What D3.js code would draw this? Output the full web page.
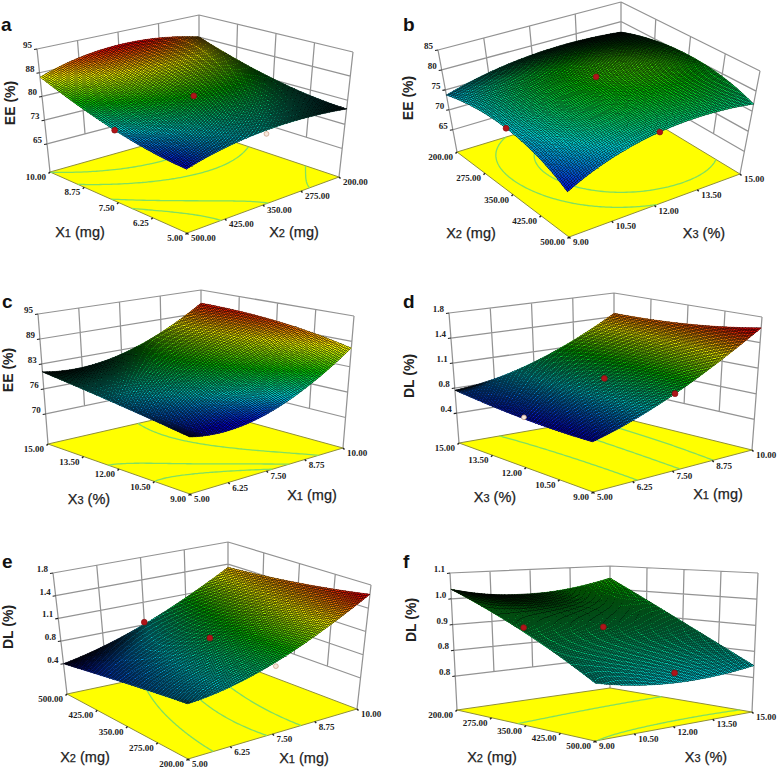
<!DOCTYPE html>
<html><head><meta charset="utf-8">
<script src="https://cdnjs.cloudflare.com/ajax/libs/d3/7.8.5/d3.min.js"></script>
<style>html,body{margin:0;background:#fff}svg{display:block}</style></head>
<body><svg id="chart" width="778" height="770"></svg>
<script>
// ---- values ----
const x1Ticks=[5,6.25,7.5,8.75,10];
const x2Ticks=[200,275,350,425,500];
const x3Ticks=[9,10.5,12,13.5,15];
const eeTicksA=[65,72.5,80,87.5,95];
const eeTicksB=[65,70,75,80,85];
const eeTicksC=[70,76.25,82.5,88.75,95];
const dlTicksD=[0.4,0.75,1.1,1.45,1.8];
const dlTicksF=[0.75,0.8375,0.925,1.0125,1.1];
// Response read at the start, middle, end of each floor axis (rows: left axis, columns: right axis)
const surfaceA=[[86.1,90.8,87.6],[77.5,81.5,80.3],[73.9,78.1,77.3]];
const surfaceB=[[73.7,77.7,77.3],[74.9,81.1,80.3],[69.3,76.5,76.8]];
const surfaceC=[[80.5,81.4,91.4],[77.9,81.3,90.3],[75.3,76.1,87.1]];
const surfaceD=[[0.72,0.95,1.50],[0.63,0.97,1.53],[0.62,1.00,1.65]];
const surfaceE=[[0.40,0.76,1.40],[0.56,0.94,1.50],[0.68,0.96,1.66]];
const surfaceF=[[1.045,1.012,1.054],[0.936,0.925,0.913],[0.812,0.774,0.79]];
// Design points: left-axis value, right-axis value, response, hollow flag
const pointsA=[[7.5,500,77.5,0],[7.5,350,81.5,0],[5,350,77,1]];
const pointsB=[[350,9,74.9,0],[350,12,81.1,0],[500,12,76.5,0]];
const pointsC=[];
const pointsD=[[12,5,0.65,1],[12,7.5,0.97,0],[9,7.5,1.0,0]];
const pointsE=[[500,7.5,0.79,0],[350,7.5,0.94,0],[200,7.5,0.90,1]];
const pointsF=[[350,9,0.95,0],[350,12,0.925,0],[500,12,0.806,0]];
// Colour stops (response values) and floor contour levels
const colorStopsA=[74,77.5,81.5,86,90.5];
const colorStopsB=[69,75,80.5,85,90];
const colorStopsC=[75,78.5,82.5,87,91.5];
const colorStopsD=[0.62,0.85,1.1,1.35,1.6];
const colorStopsE=[0.42,0.75,1.05,1.32,1.62];
const colorStopsF=[0.55,0.78,1.02,1.3,1.6];
const levelsA=[76.4,78.2,82,86];
const levelsB=[76.6,79];
const levelsC=[76.6,78.3,82.5];
const levelsD=[0.8,1.05,1.3];
const levelsE=[0.72,0.93,1.15];
const levelsF=[0.81,0.95];
// ---- layout (pixels) ----
const layouts={
 a:{L:[50,172],F:[187,233],R:[339,177],B:[199,130],LT:[37,49],FT:[186,93],RT:[353,52],BT:[199,15],
    letter:[1,31],zLab:[10,103],lLab:[80,232],rLab:[294,232]},
 b:{L:[457,152],F:[569,237],R:[740,174],B:[621,102],LT:[438,50],FT:[565,120],RT:[760,71],BT:[621,2],
    letter:[403,31],zLab:[408,98],lLab:[471,233],rLab:[704,233]},
 c:{L:[48,444],F:[190,494],R:[343,448],B:[201,409],LT:[38,314],FT:[189,349],RT:[354,316],BT:[201,290],
    letter:[2,308],zLab:[8,370],lLab:[89,499],rLab:[312,495]},
 d:{L:[459,443],F:[593,492],R:[752,450],B:[614,416],LT:[449,313],FT:[592,349],RT:[762,317],BT:[614,293],
    letter:[403,308],zLab:[409,376],lLab:[495,497],rLab:[718,494]},
 e:{L:[67,694],F:[188,759],R:[357,709],B:[228,660],LT:[53,573],FT:[187,621],RT:[371,585],BT:[228,542],
    letter:[2,568],zLab:[8,627],lLab:[85,757],rLab:[304,758]},
 f:{L:[457,710],F:[595,741],R:[752,712],B:[610,688],LT:[450,573],FT:[595,589],RT:[758,573],BT:[610,566],
    letter:[403,568],zLab:[411,620],lLab:[492,757],rLab:[706,757]}
};
const wallBase={a:.228,b:.218,c:.231,d:.23,e:.25,f:.248};
const X1={ticks:x1Ticks,name:"X",sub:"1",unit:" (mg)"},X2={ticks:x2Ticks,name:"X",sub:"2",unit:" (mg)"},X3={ticks:x3Ticks,name:"X",sub:"3",unit:" (%)"};
const panels=[
 {id:"a",left:X1,leftDir:-1,right:X2,rightDir:-1,zName:"EE (%)",zTicks:eeTicksA,zFmt:".0f",values:surfaceA,points:pointsA,stops:colorStopsA,levels:levelsA},
 {id:"b",left:X2,leftDir:1,right:X3,rightDir:1,zName:"EE (%)",zTicks:eeTicksB,zFmt:".0f",values:surfaceB,points:pointsB,stops:colorStopsB,levels:levelsB},
 {id:"c",left:X3,leftDir:-1,right:X1,rightDir:1,zName:"EE (%)",zTicks:eeTicksC,zFmt:".0f",values:surfaceC,points:pointsC,stops:colorStopsC,levels:levelsC},
 {id:"d",left:X3,leftDir:-1,right:X1,rightDir:1,zName:"DL (%)",zTicks:dlTicksD,zFmt:".1f",values:surfaceD,points:pointsD,stops:colorStopsD,levels:levelsD},
 {id:"e",left:X2,leftDir:-1,right:X1,rightDir:1,zName:"DL (%)",zTicks:dlTicksD,zFmt:".1f",values:surfaceE,points:pointsE,stops:colorStopsE,levels:levelsE},
 {id:"f",left:X2,leftDir:1,right:X3,rightDir:1,zName:"DL (%)",zTicks:dlTicksF,zFmt:".1f",values:surfaceF,points:pointsF,stops:colorStopsF,levels:levelsF}
];
const palette=["#0000d0","#00c0c8","#00c000","#eeee00","#e00000"];
const MESH=96, CELLS=48;
const svg=d3.select("#chart");
const lerp=(p,q,t)=>[p[0]+(q[0]-p[0])*t,p[1]+(q[1]-p[1])*t];
const bilinear=(L,F,R,B,a,b)=>lerp(lerp(L,F,a),lerp(B,R,a),b);
const node=(t,k)=>[2*(t-.5)*(t-1),-4*t*(t-1),2*t*(t-.5)][k];
const line=d3.line();

panels.forEach(p=>{
  const lay=layouts[p.id], g=svg.append("g");
  const lt=p.left.ticks, rt=p.right.ticks;
  const aS=d3.scaleLinear().domain(p.leftDir<0?[lt[4],lt[0]]:[lt[0],lt[4]]).range([0,1]);
  const bS=d3.scaleLinear().domain(p.rightDir<0?[rt[4],rt[0]]:[rt[0],rt[4]]).range([0,1]);
  const w0=wallBase[p.id];
  const wS=d3.scaleLinear().domain([p.zTicks[0],p.zTicks[4]]).range([w0,1]);
  const floorPt=(a,b)=>bilinear(lay.L,lay.F,lay.R,lay.B,a,b);
  const topPt=(a,b)=>bilinear(lay.LT,lay.FT,lay.RT,lay.BT,a,b);
  const proj=(a,b,w)=>lerp(floorPt(a,b),topPt(a,b),w);
  const zAt=(a,b)=>{let s=0;for(let i=0;i<3;i++)for(let j=0;j<3;j++)s+=p.values[i][j]*node(a,i)*node(b,j);return s;};
  const color=d3.scaleLinear().domain(p.stops).range(palette).clamp(true);

  // walls
  let wall=d3.path();
  const seg=(P,Q)=>{wall.moveTo(P[0],P[1]);wall.lineTo(Q[0],Q[1]);};
  p.zTicks.forEach(z=>{const w=wS(z);seg(proj(0,0,w),proj(0,1,w));seg(proj(0,1,w),proj(1,1,w));});
  rt.forEach(v=>{const b=bS(v);seg(proj(0,b,b===0||b===1?0:w0),proj(0,b,1));});
  lt.forEach(v=>{const a=aS(v);seg(proj(a,1,a===0||a===1?0:w0),proj(a,1,1));});
  g.append("path").attr("d",wall.toString()).attr("stroke","#939393").attr("stroke-width",1.25).attr("fill","none");

  // z ticks + labels
  const zf=d3.format(p.zFmt);
  p.zTicks.forEach(z=>{const q=proj(0,0,wS(z));
    g.append("line").attr("x1",q[0]-3).attr("y1",q[1]+.5).attr("x2",q[0]).attr("y2",q[1]).attr("stroke","#222").attr("stroke-width",1.1);
    g.append("text").attr("x",q[0]-5).attr("y",q[1]-1).attr("text-anchor","end").attr("class","tick").text(zf(z));
  });

  // floor
  const corners=[lay.L,lay.F,lay.R,lay.B];
  g.append("path").attr("d",line(corners)+"Z").attr("fill","#ffff00").attr("stroke","#8f8f3a").attr("stroke-width",1);
  // floor contours from the same response surface
  const n=80, grid=new Array(n*n);
  for(let j=0;j<n;j++)for(let i=0;i<n;i++)grid[j*n+i]=zAt(i/(n-1),j/(n-1));
  const cg=d3.contours().size([n,n]).thresholds(p.levels)(grid);
  const onEdge=c=>c[0]<=0||c[0]>=n||c[1]<=0||c[1]>=n;
  let cpaths=[];
  cg.forEach(mp=>mp.coordinates.forEach(poly=>poly.forEach(ring=>{
    let run=[];
    ring.forEach(c=>{
      if(onEdge(c)){if(run.length>1)cpaths.push(run);run=[];}
      else run.push(floorPt(Math.min(1,Math.max(0,(c[0]-.5)/(n-1))),Math.min(1,Math.max(0,(c[1]-.5)/(n-1)))));
    });
    if(run.length>1)cpaths.push(run);
  })));
  g.append("g").selectAll("path").data(cpaths).join("path").attr("d",line).attr("fill","none").attr("stroke","#80e060").attr("stroke-width",1.3);

  // floor axis ticks + labels
  const f2=d3.format(".2f");
  lt.forEach(v=>{const q=floorPt(aS(v),0);
    g.append("line").attr("x1",q[0]).attr("y1",q[1]).attr("x2",q[0]-1.5).attr("y2",q[1]+1.5).attr("stroke","#222").attr("stroke-width",1.4);
    g.append("text").attr("x",q[0]-4).attr("y",q[1]+8).attr("text-anchor","end").attr("class","tick").text(f2(v));
  });
  rt.forEach(v=>{const q=floorPt(1,bS(v));
    g.append("line").attr("x1",q[0]).attr("y1",q[1]).attr("x2",q[0]+1.5).attr("y2",q[1]+1.5).attr("stroke","#222").attr("stroke-width",1.4);
    g.append("text").attr("x",q[0]+4).attr("y",q[1]+8).attr("text-anchor","start").attr("class","tick").text(f2(v));
  });

  // surface: painted from back corner to front corner, darkening where the wire mesh is foreshortened
  const cellData=[];
  d3.range(CELLS).forEach(i=>d3.range(CELLS-1,-1,-1).forEach(j=>cellData.push([i/CELLS,(i+1)/CELLS,j/CELLS,(j+1)/CELLS])));
  const sp=(a,b)=>proj(a,b,wS(zAt(a,b)));
  const poly=c=>[sp(c[0],c[2]),sp(c[1],c[2]),sp(c[1],c[3]),sp(c[0],c[3])];
  const areas=cellData.map(c=>Math.abs(d3.polygonArea(poly(c))));
  const shade=d3.scaleLinear().domain([d3.min(areas),d3.mean(areas)*.8]).range([.12,1]).clamp(true);
  const cellColor=c=>d3.interpolateRgb("#000",color(zAt((c[0]+c[1])/2,(c[2]+c[3])/2)))(shade(Math.abs(d3.polygonArea(poly(c)))));
  g.append("g").selectAll("path").data(cellData).join("path")
    .attr("d",c=>line(poly(c))+"Z")
    .attr("fill",cellColor).attr("stroke",cellColor).attr("stroke-width",.6);
  // wire mesh
  const ts=d3.range(MESH+1).map(t=>t/MESH);
  let mesh="";
  ts.forEach(t=>{mesh+=line(ts.map(s=>sp(t,s)));mesh+=line(ts.map(s=>sp(s,t)));});
  g.append("path").attr("d",mesh).attr("fill","none").attr("stroke","#000").attr("stroke-width",.6).attr("stroke-opacity",.62).attr("shape-rendering","crispEdges");

  // design points
  p.points.forEach(d=>{const q=proj(aS(d[0]),bS(d[1]),wS(d[2]));
    g.append("circle").attr("cx",q[0]).attr("cy",q[1]).attr("r",d[3]?2.4:2.9)
      .attr("fill",d[3]?"#f6e8dc":"#b0141a").attr("stroke",d[3]?"#c89a80":"#8a1010").attr("stroke-width",.7);
  });

  // titles
  g.append("text").attr("x",lay.letter[0]).attr("y",lay.letter[1]).attr("class","letter").text(p.id);
  g.append("text").attr("transform",`translate(${lay.zLab[0]},${lay.zLab[1]}) rotate(-90)`).attr("dy",".36em").attr("text-anchor","middle").attr("class","zlab").text(p.zName);
  [[p.left,lay.lLab],[p.right,lay.rLab]].forEach(([ax,pos])=>{
    const t=g.append("text").attr("x",pos[0]).attr("y",pos[1]).attr("dy",".36em").attr("text-anchor","middle").attr("class","axlab");
    t.append("tspan").text(ax.name);
    t.append("tspan").attr("font-size","11px").text(ax.sub);
    t.append("tspan").text(ax.unit);
  });
});
</script>
<style>
.tick{font:bold 9px "Liberation Serif",serif;fill:#222}
.letter{font:bold 19px "Liberation Sans",sans-serif;fill:#111}
.zlab{font:bold 14px "Liberation Sans",sans-serif;fill:#222}
.axlab{font:14.5px "Liberation Sans",sans-serif;fill:#222;stroke:#222;stroke-width:.25px}
</style>
</body></html>
